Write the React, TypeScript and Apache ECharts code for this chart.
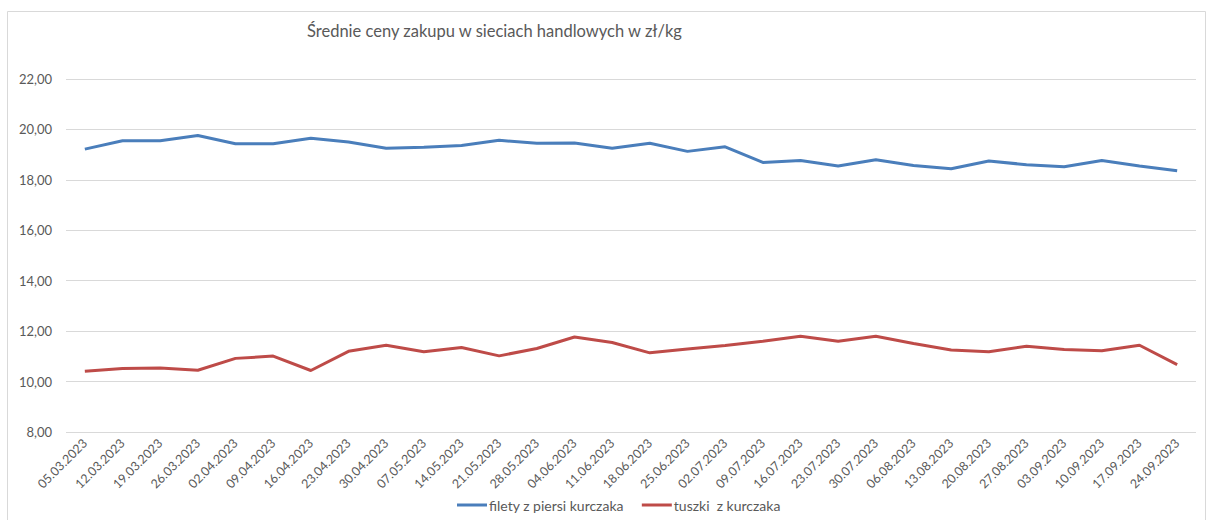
import React, { useEffect, useRef } from "react";
import * as echarts from "echarts";

const title = "Średnie ceny zakupu w sieciach handlowych w zł/kg";
const categories = [
  "05.03.2023", "12.03.2023", "19.03.2023", "26.03.2023", "02.04.2023", "09.04.2023",
  "16.04.2023", "23.04.2023", "30.04.2023", "07.05.2023", "14.05.2023", "21.05.2023",
  "28.05.2023", "04.06.2023", "11.06.2023", "18.06.2023", "25.06.2023", "02.07.2023",
  "09.07.2023", "16.07.2023", "23.07.2023", "30.07.2023", "06.08.2023", "13.08.2023",
  "20.08.2023", "27.08.2023", "03.09.2023", "10.09.2023", "17.09.2023", "24.09.2023",
];
const fileNames = ["filety z piersi kurczaka", "tuszki  z kurczaka"];
const filety = [
  19.22, 19.55, 19.55, 19.76, 19.43, 19.43, 19.65, 19.5, 19.25, 19.29,
  19.36, 19.57, 19.45, 19.46, 19.25, 19.45, 19.13, 19.31, 18.69, 18.77,
  18.55, 18.8, 18.57, 18.44, 18.75, 18.6, 18.52, 18.77, 18.55, 18.36,
];
const tuszki = [
  10.41, 10.52, 10.54, 10.45, 10.92, 11.01, 10.44, 11.2, 11.44, 11.18,
  11.35, 11.02, 11.31, 11.77, 11.55, 11.14, 11.29, 11.43, 11.6, 11.8,
  11.6, 11.8, 11.51, 11.25, 11.18, 11.4, 11.27, 11.22, 11.44, 10.67,
];
const yMin = 8;
const yMax = 22;
const yStep = 2;

const FONT = "Lato, 'Liberation Sans', sans-serif";

export default function App() {
  const ref = useRef<HTMLDivElement>(null);
  useEffect(() => {
    if (!ref.current) return;
    const chart = echarts.init(ref.current, null, { renderer: "svg" });
    chart.setOption({
      animation: false,
      textStyle: { fontFamily: FONT },
      title: {
        text: title,
        left: 302,
        top: 17,
        textStyle: { fontFamily: FONT, fontSize: 16.5, fontWeight: "normal", color: "#595959" },
      },
      graphic: [
        {
          type: "rect",
          shape: { x: 7.5, y: 11.5, width: 1198, height: 530 },
          style: { fill: "none", stroke: "#d9d9d9", lineWidth: 1 },
          silent: true,
        },
      ],
      legend: {
        bottom: 3,
        left: 452,
        icon: "rect",
        itemWidth: 30,
        itemHeight: 3,
        itemGap: 18,
        textStyle: { fontFamily: FONT, fontSize: 14, color: "#595959", padding: [0, 0, 0, -3] },
        data: fileNames,
      },
      grid: { left: 66, right: 12, top: 79, bottom: 88, containLabel: false },
      xAxis: {
        type: "category",
        data: categories,
        boundaryGap: true,
        axisLine: { show: false },
        axisTick: { show: false },
        axisLabel: {
          rotate: 45,
          interval: 0,
          margin: 9,
          fontFamily: FONT,
          fontSize: 12.5,
          color: "#595959",
        },
      },
      yAxis: {
        type: "value",
        min: yMin,
        max: yMax,
        interval: yStep,
        axisLine: { show: false },
        axisTick: { show: false },
        splitLine: { lineStyle: { color: "#d9d9d9", width: 1 } },
        axisLabel: {
          margin: 14,
          fontFamily: FONT,
          fontSize: 13,
          color: "#595959",
          formatter: (v: number) => v.toFixed(2).replace(".", ","),
        },
      },
      series: [
        {
          name: fileNames[0],
          type: "line",
          data: filety,
          symbol: "none",
          lineStyle: { color: "#4a7ebb", width: 3 },
          itemStyle: { color: "#4a7ebb" },
        },
        {
          name: fileNames[1],
          type: "line",
          data: tuszki,
          symbol: "none",
          lineStyle: { color: "#be4b48", width: 3 },
          itemStyle: { color: "#be4b48" },
        },
      ],
    });
    return () => chart.dispose();
  }, []);
  return (
    <div
      ref={ref}
      style={{ position: "absolute", left: 0, top: 0, width: 1208, height: 520, background: "#fff" }}
    />
  );
}
